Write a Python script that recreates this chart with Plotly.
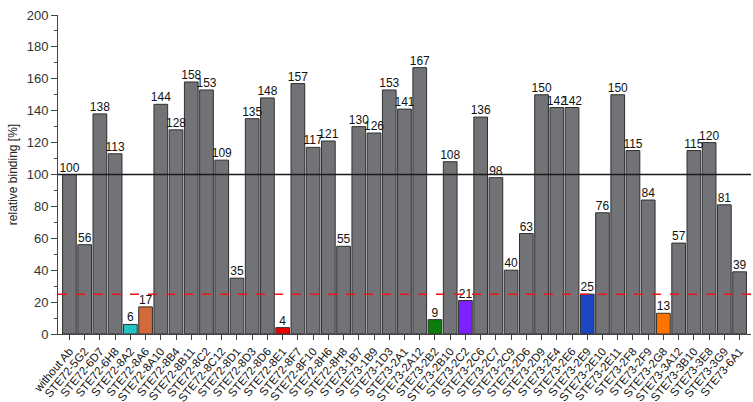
import plotly.graph_objects as go

# Antibody clones and their relative binding (%)
clones = [
    "without Ab", "STE72-5G2", "STE72-6D7", "STE72-6H8", "STE72-8A2", "STE72-8A6",
    "STE72-8A10", "STE72-8B4", "STE72-8B11", "STE72-8C2", "STE72-8C12", "STE72-8D1",
    "STE72-8D3", "STE72-8D6", "STE72-8E1", "STE72-8F7", "STE72-8F10", "STE72-8H6",
    "STE72-8H8", "STE73-1B7", "STE73-1B9", "STE73-1D3", "STE73-2A1", "STE73-2A12",
    "STE73-2B2", "STE73-2B10", "STE73-2C2", "STE73-2C6", "STE73-2C7", "STE73-2C9",
    "STE73-2D6", "STE73-2D9", "STE73-2E4", "STE73-2E6", "STE73-2E9", "STE73-2E10",
    "STE73-2E11", "STE73-2F8", "STE73-2F9", "STE73-2G8", "STE73-3A12", "STE73-3B10",
    "STE73-3E8", "STE73-3G9", "STE73-6A1",
]
binding = [
    100, 56, 138, 113, 6, 17,
    144, 128, 158, 153, 109, 35,
    135, 148, 4, 157, 117, 121,
    55, 130, 126, 153, 141, 167,
    9, 108, 21, 136, 98, 40,
    63, 150, 142, 142, 25, 76,
    150, 115, 84, 13, 57, 115,
    120, 81, 39,
]

# Highlighted clones and their colours
highlight = {
    "STE72-8A2": "#22c3c3",
    "STE72-8A6": "#d4693a",
    "STE72-8E1": "#ee0000",
    "STE73-2B2": "#0b7d0b",
    "STE73-2C2": "#7b22ff",
    "STE73-2E9": "#1b46c2",
    "STE73-2G8": "#ff7300",
}
default_color = "#727377"

reference_level = 100
cutoff_level = 25

colors = [highlight.get(c, default_color) for c in clones]
x_idx = list(range(len(clones)))
font_family = "Liberation Sans, Arial, sans-serif"

fig = go.Figure()
fig.add_trace(go.Bar(
    x=x_idx,
    y=binding,
    marker=dict(color=colors, line=dict(color="#2f2f2f", width=1)),
    width=0.9,
    hoverinfo="x+y",
))
# value labels above each bar
fig.add_trace(go.Scatter(
    x=x_idx,
    y=binding,
    mode="text",
    text=[str(v) for v in binding],
    textposition="top center",
    textfont=dict(family=font_family, size=12, color="#111"),
    cliponaxis=False,
    hoverinfo="skip",
))

fig.add_shape(type="line", xref="paper", x0=0, x1=1, yref="y",
              y0=reference_level, y1=reference_level,
              line=dict(color="#1a1a1a", width=1.5), layer="above")
fig.add_shape(type="line", xref="paper", x0=0, x1=1, yref="y",
              y0=cutoff_level, y1=cutoff_level,
              line=dict(color="#e8161a", width=1.5, dash="dash"), layer="above")

fig.update_layout(
    width=753, height=402,
    margin=dict(l=58, r=2, t=15, b=68),
    paper_bgcolor="white", plot_bgcolor="white",
    showlegend=False,
    font=dict(family=font_family, color="#222"),
    xaxis=dict(
        range=[-0.75, len(clones) - 0.25],
        tickmode="array", tickvals=x_idx, ticktext=clones,
        tickangle=-50, tickfont=dict(size=11.5, color="#111"),
        ticks="outside", ticklen=5, tickcolor="#444",
        showline=True, linecolor="#444", linewidth=1,
        showgrid=False, zeroline=False, automargin=False,
    ),
    yaxis=dict(
        range=[0, 200], dtick=20,
        tickfont=dict(size=13, color="#333"),
        ticks="outside", ticklen=6, tickcolor="#444",
        minor=dict(dtick=10, ticks="outside", ticklen=3, tickcolor="#444"),
        showline=True, linecolor="#444", linewidth=1,
        showgrid=False, zeroline=False, automargin=False,
        title=dict(text="relative binding [%]", font=dict(size=12, color="#222"), standoff=6),
    ),
)

fig.write_html("out.html")
